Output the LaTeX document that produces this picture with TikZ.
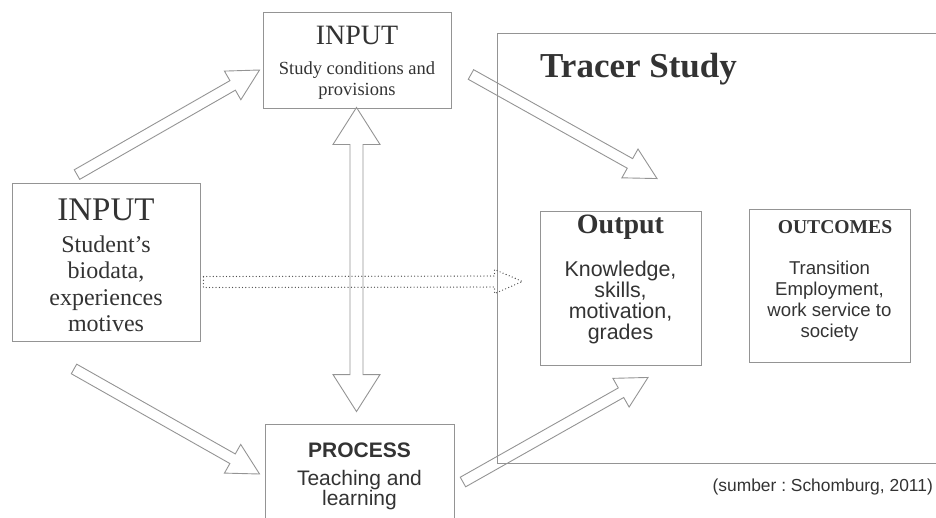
\documentclass[tikz,border=0pt]{standalone}
\usepackage{fontspec}
\setmainfont{Liberation Serif}
\setsansfont{Liberation Sans}
\usepackage{tikz}
\usetikzlibrary{calc}
\usetikzlibrary{positioning}
\definecolor{linegray}{HTML}{949494}
\definecolor{textgray}{HTML}{333333}
\tikzset{
box/.style={draw=linegray, line width=0.9pt, inner sep=0pt},
blockarrow/.style={draw=linegray, line width=0.9pt, line join=miter},
dotarrow/.style={draw=black!70, line width=1.3pt, line cap=round, dash pattern=on 0pt off 3.3pt},
body/.style={align=center, inner sep=0pt, anchor=north, text=textgray},
title/.style={inner sep=0pt, anchor=base, text=textgray}
}
% hollow block arrow: [options]{tail}{tip}{shaft half}{head half}{head length}
\newcommand{\hollowarrow}[6][]{%
  \coordinate (neck) at ($(#3)!#6!(#2)$);
  \draw[blockarrow,#1] ($(#2)!#4!90:(#3)$) -- ($(neck)!#4!90:(#3)$) -- ($(neck)!#5!90:(#3)$) -- (#3)
    -- ($(neck)!#5!-90:(#3)$) -- ($(neck)!#4!-90:(#3)$) -- ($(#2)!#4!-90:(#3)$) -- cycle;}
% same with a head on both ends
\newcommand{\hollowdarrow}[6][]{%
  \coordinate (neckA) at ($(#2)!#6!(#3)$);
  \coordinate (neckB) at ($(#3)!#6!(#2)$);
  \draw[blockarrow,#1] (#2) -- ($(neckA)!#5!90:(#3)$) -- ($(neckA)!#4!90:(#3)$) -- ($(neckB)!#4!90:(#3)$)
    -- ($(neckB)!#5!90:(#3)$) -- (#3) -- ($(neckB)!#5!-90:(#3)$) -- ($(neckB)!#4!-90:(#3)$)
    -- ($(neckA)!#4!-90:(#3)$) -- ($(neckA)!#5!-90:(#3)$) -- cycle;}

\begin{document}
\begin{tikzpicture}[x=1pt, y=1pt]

\useasboundingbox (0,0) rectangle (936,-517);
\clip (0,0) rectangle (936,-517);

% boxes
\node[box, minimum width=448, minimum height=430] (tracer) at (721,-248) {};
\node[box, minimum width=188, minimum height=96] (inTop) at (357,-60) {};
\node[box, minimum width=188, minimum height=158] (inLeft) at (106,-262) {};
\node[box, minimum width=189, minimum height=106] (proc) at (359.5,-477) {};
\node[box, minimum width=161, minimum height=154] (outp) at (620.5,-288) {};
\node[box, minimum width=161, minimum height=153] (outc) at (829.5,-285.5) {};

% texts
\node[title, anchor=base west, font=\fontsize{35}{40}\selectfont\bfseries] (tracerT) at (540,-77) {Tracer Study};
\node[title, font=\fontsize{28}{32}\selectfont] (inTopT) at (357,-44) {INPUT};
\node[body, font=\fontsize{18.5}{21}\selectfont] (inTopB) at (357,-61.4) {Study conditions and\\provisions};
\node[title, font=\fontsize{33}{36}\selectfont] (inLeftT) at (106,-220) {INPUT};
\node[body, font=\fontsize{24}{26.3}\selectfont] (inLeftB) at (106,-235.6) {Student’s\\biodata,\\experiences\\motives};
\node[title, font=\fontsize{21}{24}\selectfont\sffamily\bfseries] (procT) at (359.5,-457) {PROCESS};
\node[body, font=\fontsize{21}{20.5}\selectfont\sffamily] (procB) at (359.5,-469.7) {Teaching and\\learning};
\node[title, font=\fontsize{28}{32}\selectfont\bfseries] (outpT) at (620.5,-233) {Output};
\node[body, font=\fontsize{21.4}{20.9}\selectfont\sffamily] (outpB) at (620.5,-260.7) {Knowledge,\\skills,\\motivation,\\grades};
\node[title, font=\fontsize{19.6}{22}\selectfont\bfseries] (outcT) at (835,-233) {OUTCOMES};
\node[body, font=\fontsize{18.6}{21}\selectfont\sffamily] (outcB) at (829.5,-260.7) {Transition\\Employment,\\work service to\\society};
\node[title, anchor=base east, font=\fontsize{17.4}{20}\selectfont\sffamily\frenchspacing] (source) at (933,-491) {(sumber : Schomburg, 2011)};

% arrow ends
\coordinate (t1) at ($(inLeft.north)+(-29,8)$);
\coordinate (h1) at ($(inTop.west)+(-3,-10)$);
\coordinate (t2) at ($(inTop.east)+(19.5,-14.5)$);
\coordinate (h2) at ($(outp.north)+(36.5,32)$);
\coordinate (t3) at ($(inLeft.south)+(-32,-27.5)$);
\coordinate (h3) at ($(proc.west)+(-5,3)$);
\coordinate (t4) at ($(proc.east)+(8.5,-5)$);
\coordinate (h4) at ($(outp.south)+(27.5,-12)$);
\coordinate (t5) at ($(inLeft.east)+(3,-20)$);
\coordinate (h5) at ($(outp.west)+(-17,6.5)$);
\coordinate (vTop) at ($(inTop.south)+(-0.5,1)$);
\coordinate (vBot) at ($(proc.north)+(-3,12)$);

% arrows
\foreach \a/\b in {t1/h1, t2/h2, t3/h3, t4/h4} {\hollowarrow{\a}{\b}{5.5pt}{16.5pt}{31pt}}
\hollowarrow[dotarrow]{t5}{h5}{5.5pt}{12pt}{28pt}
\hollowdarrow{vTop}{vBot}{6.5pt}{23.5pt}{37pt}

\end{tikzpicture}
\end{document}
